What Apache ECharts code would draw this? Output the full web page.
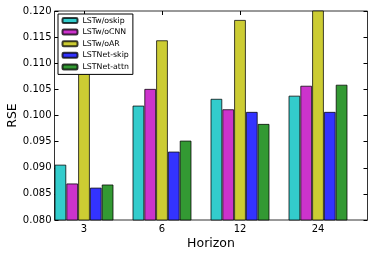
<!DOCTYPE html>
<html><head><meta charset="utf-8">
<script src="https://cdn.jsdelivr.net/npm/echarts@6/dist/echarts.min.js"></script>
<style>html,body{margin:0;padding:0;background:#fff}#c{width:374px;height:257px}</style>
</head><body><div id="c"></div>
<script>
const categories = ['3', '6', '12', '24'];
const seriesNames = ['LSTw/oskip', 'LSTw/oCNN', 'LSTw/oAR', 'LSTNet-skip', 'LSTNet-attn'];
const lstwOskip  = [0.0906, 0.1019, 0.1032, 0.1038];
const lstwOcnn   = [0.0870, 0.1051, 0.1012, 0.1057];
const lstwOar    = [0.1120, 0.1144, 0.1183, 0.1230];
const lstnetSkip = [0.0862, 0.0931, 0.1007, 0.1007];
const lstnetAttn = [0.0868, 0.0952, 0.0984, 0.1059];
const yMin = 0.080, yMax = 0.120, yStep = 0.005;

const values = [lstwOskip, lstwOcnn, lstwOar, lstnetSkip, lstnetAttn];
const colors = ['#33cccc', '#cc33cc', '#cccc33', '#3333ff', '#339933'];
const font = 'DejaVu Sans';

const chart = echarts.init(document.getElementById('c'), null, {renderer: 'canvas'});
chart.setOption({
  animation: false,
  backgroundColor: '#fff',
  textStyle: {fontFamily: font},
  grid: [
    {left: 45, width: 312, top: 11, bottom: 37, show: false, containLabel: false, outerBoundsMode: 'none'},
    {left: 54.5, right: 6.5, top: 11, bottom: 37, show: true, borderColor: '#333', borderWidth: 1,
     backgroundColor: 'transparent', containLabel: false, outerBoundsMode: 'none'}
  ],
  legend: {
    orient: 'vertical', left: 58, top: 14,
    data: seriesNames,
    itemWidth: 15, itemHeight: 5, itemGap: 2.6,
    padding: [2, 4, 3, 3.5],
    borderColor: '#000', borderWidth: 1, backgroundColor: '#fff',
    textStyle: {fontFamily: font, fontSize: 7.8, lineHeight: 9, color: '#000'}
  },
  xAxis: [
    {type: 'category', gridIndex: 0, data: categories, position: 'bottom',
     axisLine: {show: false},
     axisTick: {show: true, inside: true, length: 4, alignWithLabel: true, lineStyle: {color: '#000'}},
     axisLabel: {fontFamily: font, fontSize: 10, color: '#000', margin: 4}},
    {type: 'category', gridIndex: 0, data: categories, position: 'top',
     axisLine: {show: false},
     axisTick: {show: true, inside: true, length: 4, alignWithLabel: true, lineStyle: {color: '#000'}},
     axisLabel: {show: false}},
    {type: 'value', gridIndex: 1, min: 0, max: 1, position: 'bottom',
     name: 'Horizon', nameLocation: 'middle', nameGap: 17, nameMoveOverlap: false,
     nameTextStyle: {fontFamily: font, fontSize: 12.5, color: '#000'},
     axisLine: {show: false}, axisTick: {show: false}, axisLabel: {show: false}, splitLine: {show: false}}
  ],
  yAxis: [
    {type: 'value', gridIndex: 0, min: yMin, max: yMax, interval: yStep, show: false, splitLine: {show: false}},
    {type: 'value', gridIndex: 1, min: yMin, max: yMax, interval: yStep, position: 'left',
     name: 'RSE', nameLocation: 'middle', nameGap: 35, nameRotate: 90, nameMoveOverlap: false,
     nameTextStyle: {fontFamily: font, fontSize: 12.5, color: '#000'},
     axisLine: {show: false},
     axisTick: {show: true, inside: true, length: 4, lineStyle: {color: '#000'}},
     axisLabel: {fontFamily: font, fontSize: 10, color: '#000', margin: 3, formatter: v => v.toFixed(3)},
     splitLine: {show: false}},
    {type: 'value', gridIndex: 1, min: yMin, max: yMax, interval: yStep, position: 'right',
     axisLine: {show: false},
     axisTick: {show: true, inside: true, length: 4, lineStyle: {color: '#000'}},
     axisLabel: {show: false}, splitLine: {show: false}}
  ],
  series: seriesNames.map((name, i) => ({
    name, type: 'bar', xAxisIndex: 0, yAxisIndex: 0,
    data: values[i], barWidth: 11.8, barGap: '0%',
    clip: true,
    itemStyle: {color: colors[i], borderColor: 'rgba(0,0,0,0.75)', borderWidth: 1}
  }))
});
</script></body></html>
